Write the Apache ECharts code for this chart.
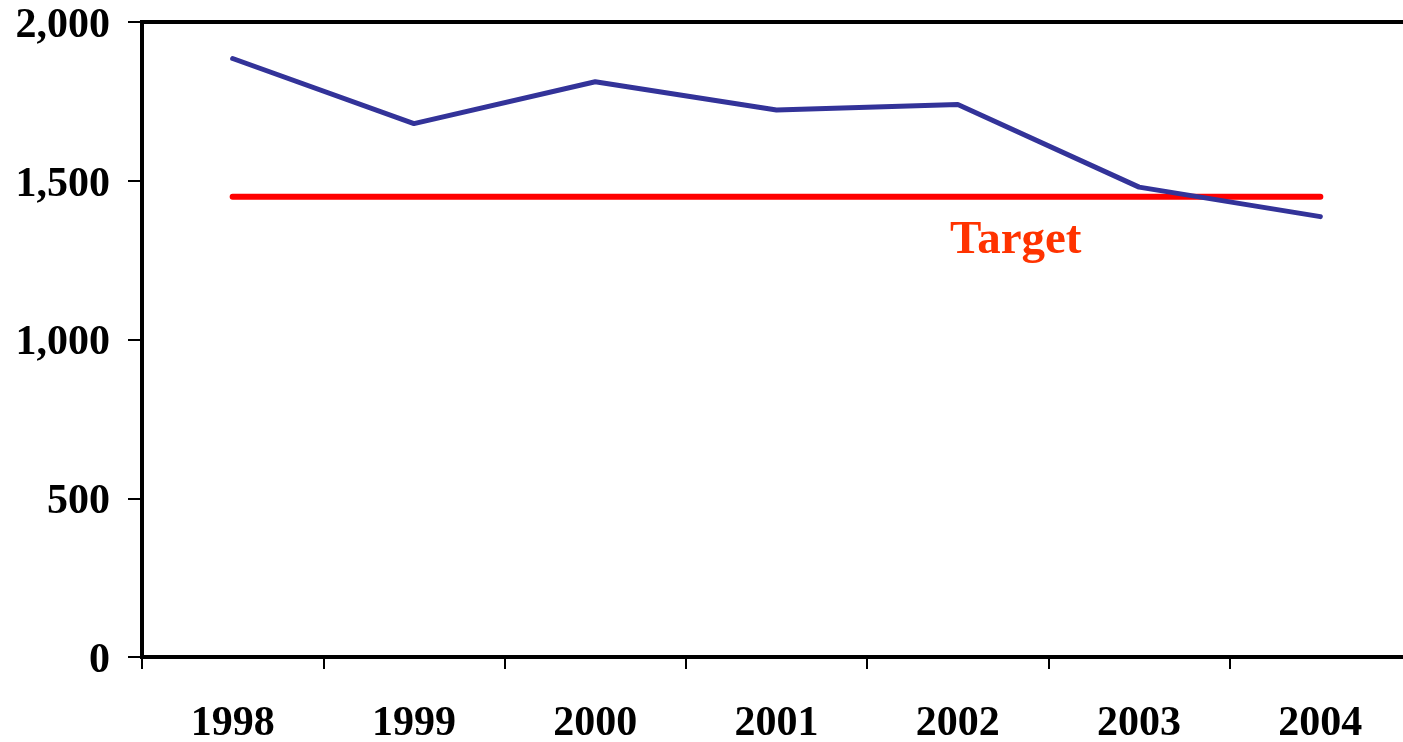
<!DOCTYPE html>
<html><head><meta charset="utf-8">
<script src="https://cdn.jsdelivr.net/npm/echarts@6/dist/echarts.min.js"></script>
<style>html,body{margin:0;padding:0;background:#fff}#c{width:1403px;height:742px}</style>
</head><body><div id="c"></div>
<script>
const years = ['1998','1999','2000','2001','2002','2003','2004'];
const actual = [1885, 1680, 1812, 1723, 1740, 1480, 1387];
const target = [1450, 1450, 1450, 1450, 1450, 1450, 1450];
const yTicks = [0, 500, 1000, 1500, 2000];
const targetLabel = 'Target';
const targetLabelPos = [4.32, 1310];

const font = 'Liberation Serif';
const chart = echarts.init(document.getElementById('c'));
chart.setOption({
  animation: false,
  backgroundColor: '#fff',
  grid: {left: 142, top: 22, width: 1269, height: 635, show: true, borderColor: '#000', borderWidth: 4,
    containLabel: false, outerBoundsMode: 'none'},
  xAxis: {
    type: 'category', data: years, boundaryGap: true,
    axisLine: {lineStyle: {color: '#000', width: 4}},
    axisTick: {show: true, length: 12, inside: false, lineStyle: {color: '#000', width: 2}},
    axisLabel: {color: '#000', fontFamily: font, fontWeight: 'bold', fontSize: 42, margin: 46}
  },
  yAxis: {
    type: 'value', min: yTicks[0], max: yTicks[yTicks.length-1], interval: 500,
    splitLine: {show: false},
    axisLine: {show: true, lineStyle: {color: '#000', width: 4}},
    axisTick: {show: true, length: 14, lineStyle: {color: '#000', width: 2}},
    axisLabel: {color: '#000', fontFamily: font, fontWeight: 'bold', fontSize: 42, margin: 32,
      formatter: v => '{a|' + v.toLocaleString('en-US') + '}',
      rich: {a: {color: '#000', fontFamily: font, fontWeight: 'bold', fontSize: 42, padding: [8, 0, 0, 0]}}}
  },
  series: [
    {type: 'line', data: target, symbol: 'none', lineStyle: {color: '#ff0000', width: 6, cap: 'round'}, z: 2},
    {type: 'line', data: actual, symbol: 'none', lineStyle: {color: '#333399', width: 5, cap: 'round', join: 'round'}, z: 3}
  ]
});
const i0 = Math.floor(targetLabelPos[0]), f = targetLabelPos[0] - i0;
const a = chart.convertToPixel({gridIndex: 0}, [i0, targetLabelPos[1]]);
const b = chart.convertToPixel({gridIndex: 0}, [i0 + 1, targetLabelPos[1]]);
const px = a[0] + (b[0] - a[0]) * f;
chart.setOption({graphic: [{type: 'text', x: px, y: a[1], style: {text: targetLabel, fill: '#ff3300', font: 'bold 47px "Liberation Serif"', textAlign: 'center', textVerticalAlign: 'middle'}}]});
</script></body></html>
